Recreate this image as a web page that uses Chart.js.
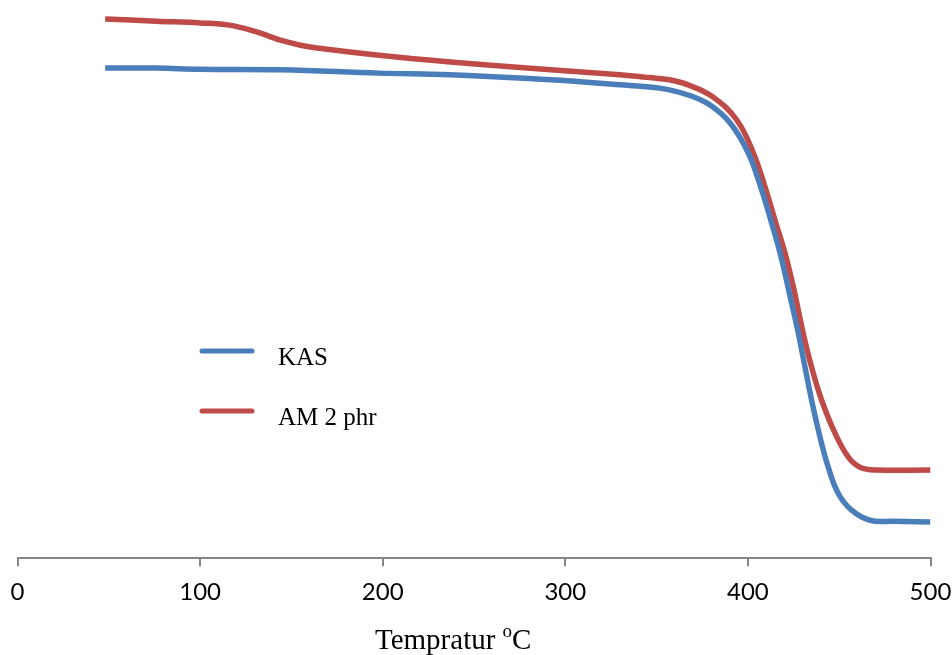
<!DOCTYPE html>
<html>
<head>
<meta charset="utf-8">
<script src="https://cdn.jsdelivr.net/npm/chart.js@4.4.1/dist/chart.umd.min.js"></script>
<style>
  html, body { margin: 0; padding: 0; background: #fff; }
  #wrap { width: 952px; height: 655px; position: relative; }
</style>
</head>
<body>
<div id="wrap"><canvas id="myChart" width="952" height="655"></canvas></div>
<script>
// x axis ticks
const xTicks = [0, 100, 200, 300, 400, 500];

// KAS (blue)
const kasTemp = [48, 76, 100, 144, 198, 237, 292, 330, 346, 357, 369, 379.3, 390.2, 400.2, 407, 412.5, 417.6, 423.6, 427.6, 431.3, 434.9, 439.5, 444, 449.5, 456.8, 466.8, 480, 500];
const kasWeight = [87.8, 87.8, 87.6, 87.5, 86.9, 86.6, 85.7, 84.8, 84.4, 83.9, 82.8, 81.2, 78.0, 72.6, 66.5, 60.6, 54.7, 46.2, 40.3, 34.2, 28.3, 21.7, 16.3, 11.6, 8.6, 6.8, 6.6, 6.5];

// AM 2 phr (red)
const amTemp = [48, 76, 100, 116, 131, 138, 144, 155, 164, 198, 237, 292, 330, 346, 357, 368, 381, 393.9, 403, 409.4, 414.8, 420.3, 424.9, 430.3, 434.9, 440.4, 447.7, 455, 461.4, 470.5, 500];
const amWeight = [96.6, 96.2, 95.9, 95.5, 94.3, 93.5, 92.8, 91.9, 91.4, 90.1, 88.9, 87.5, 86.6, 86.1, 85.7, 84.7, 82.6, 78.5, 72.6, 66.5, 60.6, 54.7, 48.6, 40.3, 34.2, 28.3, 22.4, 18.1, 16.3, 15.8, 15.8];

const xTitle = 'Tempratur';
const xTitleSup = 'o';
const xTitleUnit = 'C';

function toPoints(xs, ys) {
    return xs.map((x, i) => ({ x: x, y: ys[i] }));
}

// legend and axis title drawn inside the canvas
const extrasPlugin = {
    id: 'extras',
    afterDraw(chart) {
        const ctx = chart.ctx;
        ctx.save();
        // legend
        const rows = [351, 411];
        chart.data.datasets.forEach((ds, i) => {
            const y = rows[i];
            ctx.strokeStyle = ds.borderColor;
            ctx.lineWidth = 5;
            ctx.lineCap = 'round';
            ctx.beginPath();
            ctx.moveTo(202, y);
            ctx.lineTo(252, y);
            ctx.stroke();
            ctx.fillStyle = '#000';
            ctx.font = '25px "Liberation Serif", "Times New Roman", serif';
            ctx.textBaseline = 'alphabetic';
            ctx.fillText(ds.label, 278, y + 14);
        });
        // x axis title with superscript
        ctx.fillStyle = '#000';
        ctx.textBaseline = 'alphabetic';
        ctx.font = '29px "Liberation Serif", "Times New Roman", serif';
        let x = 375;
        ctx.fillText(xTitle + ' ', x, 649);
        x += ctx.measureText(xTitle + ' ').width;
        ctx.font = '19px "Liberation Serif", "Times New Roman", serif';
        ctx.fillText(xTitleSup, x, 637);
        x += ctx.measureText(xTitleSup).width;
        ctx.font = '29px "Liberation Serif", "Times New Roman", serif';
        ctx.fillText(xTitleUnit, x, 649);
        ctx.restore();
    }
};

const ctx = document.getElementById('myChart').getContext('2d');
new Chart(ctx, {
    type: 'line',
    data: {
        datasets: [{
            label: 'KAS',
            data: toPoints(kasTemp, kasWeight),
            borderColor: '#4A7EBB',
            borderWidth: 5.5,
            pointRadius: 0,
            tension: 0.4,
            fill: false
        }, {
            label: 'AM 2 phr',
            data: toPoints(amTemp, amWeight),
            borderColor: '#BE4B48',
            borderWidth: 5.5,
            pointRadius: 0,
            tension: 0.4,
            fill: false
        }]
    },
    options: {
        responsive: false,
        animation: false,
        layout: { padding: { left: 17.5, right: 21.5, top: 0, bottom: 36 } },
        plugins: {
            legend: { display: false },
            tooltip: { enabled: false }
        },
        scales: {
            x: {
                type: 'linear',
                min: 0,
                max: 500,
                afterBuildTicks: axis => { axis.ticks = xTicks.map(v => ({ value: v })); },
                afterFit: axis => { axis.paddingLeft = 0; axis.paddingRight = 0; },
                ticks: {
                    color: '#000',
                    padding: 12,
                    maxRotation: 0,
                    font: { family: 'Lato', size: 24 }
                },
                grid: {
                    drawOnChartArea: false,
                    drawTicks: true,
                    tickLength: 8,
                    color: '#868686',
                    lineWidth: 2
                },
                border: { color: '#868686', width: 2 }
            },
            y: {
                display: false,
                min: 0,
                max: 100
            }
        }
    },
    plugins: [extrasPlugin]
});
</script>
</body>
</html>
